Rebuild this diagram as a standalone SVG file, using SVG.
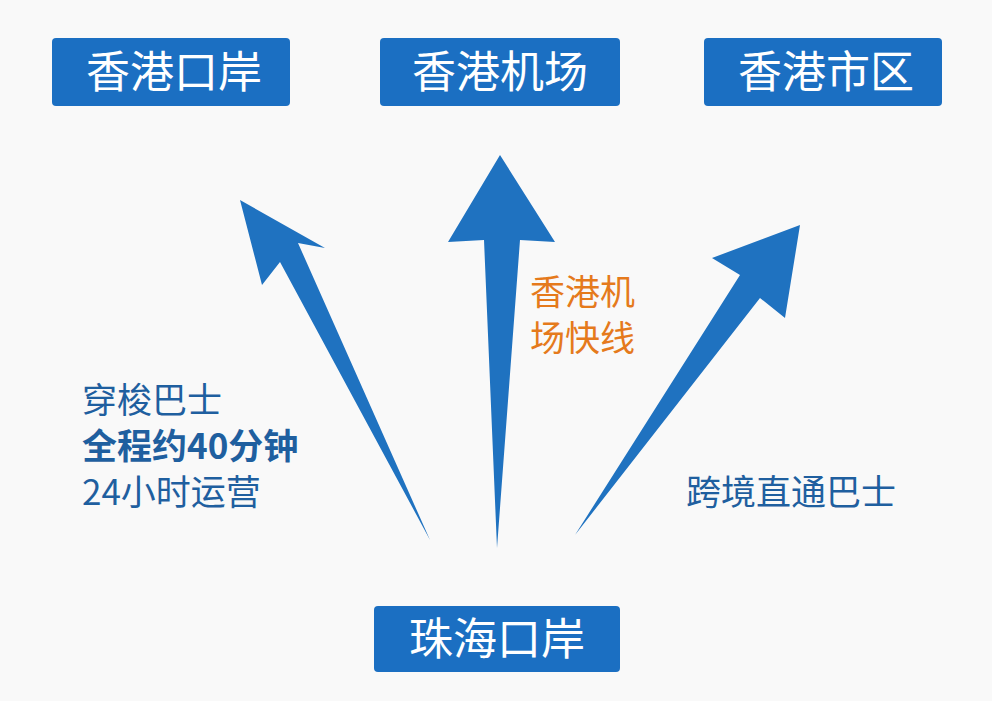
<svg xmlns="http://www.w3.org/2000/svg" width="992" height="701" viewBox="0 0 992 701">
<style>
.box{fill:#1b6fc2}
.bt{fill:#fff;font-family:"Noto Sans CJK SC",sans-serif;font-size:44px;text-anchor:middle}
.arr{fill:#1f72c0}
.lb{fill:#1f5f9f;font-family:"Noto Sans CJK SC",sans-serif;font-size:35px}
.or{fill:#e57a1c;font-family:"Noto Sans CJK SC",sans-serif;font-size:35px}
</style>
<rect width="992" height="701" fill="#f9f9f9"/>
<g id="n1"><rect class="box" x="52" y="38" width="238" height="68" rx="4"/><text class="bt" x="174" y="88">香港口岸</text></g>
<g id="n2"><rect class="box" x="380" y="38" width="240" height="68" rx="4"/><text class="bt" x="500" y="88">香港机场</text></g>
<g id="n3"><rect class="box" x="704" y="38" width="238" height="68" rx="4"/><text class="bt" x="826" y="88">香港市区</text></g>
<g id="n4"><rect class="box" x="374" y="606" width="246" height="66" rx="4"/><text class="bt" x="497" y="655">珠海口岸</text></g>
<g id="connectors">
<polygon class="arr" points="430,540 298,243 325,248 240,200 262,285 280,262"/>
<polygon class="arr" points="497,548 520,240 555,242 500,155 448,242 484,240"/>
<polygon class="arr" points="575,535 760,298 785,318 800,225 712,258 740,275"/>
</g>
<text class="lb" x="82" y="413">穿梭巴士</text>
<text class="lb" x="82" y="459" font-weight="bold">全程约40分钟</text>
<text class="lb" x="82" y="505">24小时运营</text>
<text class="or" x="530" y="305">香港机</text>
<text class="or" x="530" y="351">场快线</text>
<text class="lb" x="686" y="505">跨境直通巴士</text>
</svg>
